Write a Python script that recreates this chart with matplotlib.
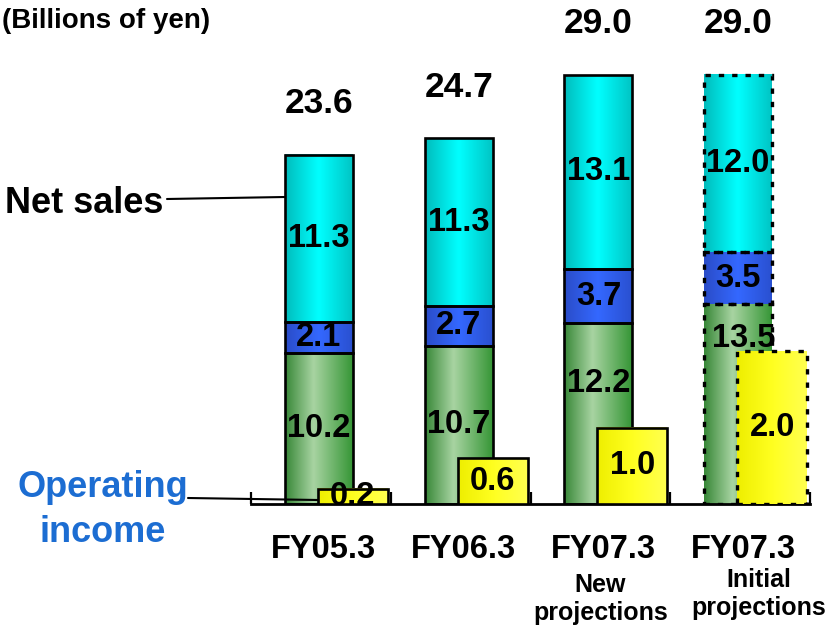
import numpy as np
import matplotlib
matplotlib.use("Agg")
import matplotlib.pyplot as plt
from matplotlib.colors import LinearSegmentedColormap
from matplotlib.transforms import blended_transform_factory

years = ["FY05.3", "FY06.3", "FY07.3", "FY07.3"]
notes = ["", "", "New\nprojections", "Initial\nprojections"]
seg_green = [10.2, 10.7, 12.2, 13.5]
seg_blue = [2.1, 2.7, 3.7, 3.5]
seg_cyan = [11.3, 11.3, 13.1, 12.0]
net_sales = [23.6, 24.7, 29.0, 29.0]
op_income = [0.2, 0.6, 1.0, 2.0]
projected = [False, False, False, True]

W, H = 839, 626
plt.rcParams["font.family"] = ["Liberation Sans", "DejaVu Sans"]
plt.rcParams["font.weight"] = "bold"

GREEN = LinearSegmentedColormap.from_list(
    "green", [(0, "#378737"), (0.42, "#a8d4a2"), (1, "#369636")])
BLUE = LinearSegmentedColormap.from_list(
    "blue", [(0, "#2a4cc8"), (0.5, "#3468ff"), (1, "#2a50d0")])
CYAN = LinearSegmentedColormap.from_list(
    "cyan", [(0, "#00bcbc"), (0.5, "#00ffff"), (1, "#00c4c4")])
YELLOW = LinearSegmentedColormap.from_list(
    "yellow", [(0, "#eeee00"), (0.5, "#ffff20"), (1, "#ffff50")])
GRAD = np.linspace(0, 1, 256).reshape(1, -1)

GREEN_W, GREEN_X = 0.486, -0.257    # left edge offset from category center
YEL_W, YEL_X = 0.5, -0.021
EDGE = 1.9
DASH = (0, (1.6, 2.4))


def px(x, y):
    return x / W, 1 - y / H


def shaded_bar(ax, left, bottom, height, width, cmap, dashed):
    ax.imshow(GRAD, cmap=cmap, aspect="auto", interpolation="bicubic",
              extent=(left, left + width, bottom, bottom + height), zorder=1)
    ax.bar(left, height, width, bottom=bottom, align="edge",
           facecolor="none", edgecolor="black",
           lw=EDGE + 0.5 if dashed else EDGE,
           linestyle=DASH if dashed else "-", zorder=2)


fig = plt.figure(figsize=(W / 100, H / 100), dpi=100)
base = 504
ax = fig.add_axes([251 / W, (H - base) / H, 559 / W, base / H])
ax2 = ax.twinx()

x = np.arange(len(years))
for i in x:
    g, b, c = seg_green[i], seg_blue[i], seg_cyan[i]
    dashed = projected[i]
    shaded_bar(ax, i + GREEN_X, 0, g, GREEN_W, GREEN, dashed)
    shaded_bar(ax, i + GREEN_X, g, b, GREEN_W, BLUE, dashed)
    shaded_bar(ax, i + GREEN_X, g + b, c, GREEN_W, CYAN, dashed)
    shaded_bar(ax2, i + YEL_X, 0, op_income[i], YEL_W, YELLOW, dashed)

ax.set_xlim(-0.5, 3.5)
ax.set_ylim(0, base / 14.8)
ax2.set_ylim(0, base / 76.5)

for a in (ax, ax2):
    for s in ("left", "right", "top"):
        a.spines[s].set_visible(False)
    a.set_yticks([])
ax2.spines["bottom"].set_visible(False)
ax.spines["bottom"].set_linewidth(2)
ax.set_xticks(x, [""] * len(x))
ax.set_xticks(np.arange(-0.5, 4, 1), minor=True)
ax.tick_params(axis="x", which="major", length=0)
ax.tick_params(axis="x", which="minor", direction="in", length=9, width=1.6)

# value labels go on the twin axes so they sit above the yellow bars
green_pos = [0.5, 0.5, 0.665, 0.83]
green_dx = [0, 0, 0, 0.04]
seg_kw = dict(ha="center", va="center", fontsize=23.5, transform=ax.transData)
for i in x:
    cx = i + GREEN_X + GREEN_W / 2
    g, b, c = seg_green[i], seg_blue[i], seg_cyan[i]
    ax2.text(cx + green_dx[i], g * green_pos[i], f"{g:.1f}", **seg_kw)
    ax2.text(cx, g + b / 2, f"{b:.1f}", **seg_kw)
    ax2.text(cx, g + b + c / 2, f"{c:.1f}", **seg_kw)
    ax2.annotate(f"{net_sales[i]:.1f}", (cx, net_sales[i]), xycoords=ax.transData,
                 xytext=(0, 37), textcoords="offset points",
                 ha="center", va="center", fontsize=25.5)
    ax2.text(i + YEL_X + YEL_W / 2, op_income[i] / 2, f"{op_income[i]:.1f}",
             ha="center", va="center", fontsize=23.5, clip_on=True)

# category labels under the axis
lab_tr = blended_transform_factory(ax.transData, fig.transFigure)
note_dx = [0, 0, 0, 0.135]
note_base = [592, 592, 592, 587]
for i in x:
    ax.text(i + 0.02, 1 - 558 / H, years[i], transform=lab_tr,
            ha="center", va="baseline", fontsize=23.5)
    if notes[i]:
        top, bottom = notes[i].split("\n")
        ax.text(i + note_dx[i], 1 - note_base[i] / H, top, transform=lab_tr,
                ha="center", va="baseline", fontsize=18)
        ax.text(i + note_dx[i], 1 - (note_base[i] + 28) / H, bottom,
                transform=lab_tr, ha="center", va="baseline", fontsize=18)

# series callouts on the left
fig.text(*px(5, 213), "Net sales", ha="left", va="baseline", fontsize=26)
ax.annotate("", xy=(GREEN_X, (base - 197) / 14.8), xycoords="data",
            xytext=px(167, 199), textcoords="figure fraction",
            arrowprops=dict(arrowstyle="-", lw=1.5, color="black",
                            shrinkA=0, shrinkB=0), annotation_clip=False)

blue_txt = "#1c6dd2"
fig.text(*px(103, 497), "Operating", ha="center", va="baseline",
         fontsize=26, color=blue_txt)
fig.text(*px(103, 542), "income", ha="center", va="baseline",
         fontsize=26, color=blue_txt)
ax.annotate("", xy=(YEL_X, (base - 500) / 14.8), xycoords="data",
            xytext=px(188, 498), textcoords="figure fraction",
            arrowprops=dict(arrowstyle="-", lw=1.5, color="black",
                            shrinkA=0, shrinkB=0), annotation_clip=False)

fig.text(*px(2, 28), "(Billions of yen)", ha="left", va="baseline",
         fontsize=20)

fig.savefig("out.png", dpi=100)
